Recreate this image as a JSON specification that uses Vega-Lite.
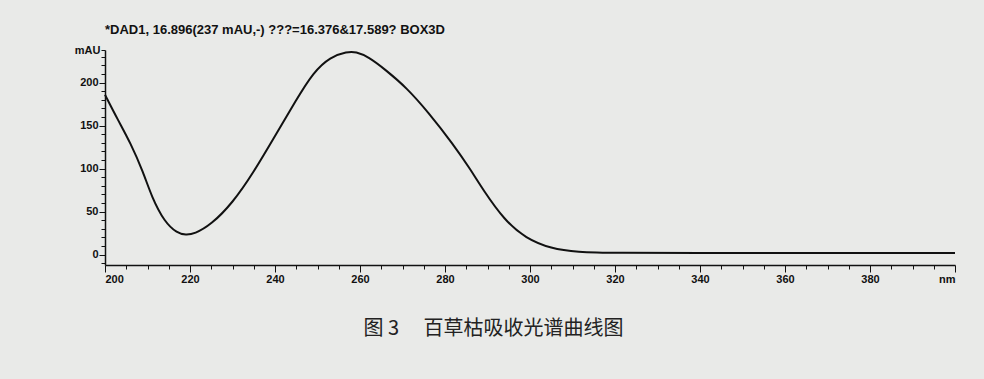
{
  "$schema": "https://vega.github.io/schema/vega-lite/v6.json",
  "autosize": "none",
  "width": 850,
  "height": 215,
  "padding": {"left": 105, "top": 50, "right": 29, "bottom": 114},
  "background": "#e9eae8",
  "title": {
    "text": "*DAD1, 16.896(237 mAU,-) ???=16.376&17.589? BOX3D",
    "anchor": "start",
    "frame": "group",
    "offset": 7,
    "fontSize": 13,
    "font": "Liberation Sans",
    "fontWeight": "bold",
    "color": "#111111"
  },
  "config": {
    "view": {"stroke": null},
    "axis": {
      "domainColor": "#111111",
      "domainWidth": 1.5,
      "tickColor": "#111111",
      "grid": false,
      "labelFont": "Liberation Sans",
      "labelFontWeight": "bold",
      "labelFontSize": 11,
      "labelColor": "#111111"
    }
  },
  "data": {
    "values": [
      {"nm": 200, "mAU": 186},
      {"nm": 203, "mAU": 157},
      {"nm": 206, "mAU": 130},
      {"nm": 209, "mAU": 96},
      {"nm": 211, "mAU": 67},
      {"nm": 214, "mAU": 38},
      {"nm": 217, "mAU": 25},
      {"nm": 219, "mAU": 23},
      {"nm": 221, "mAU": 24},
      {"nm": 225, "mAU": 35},
      {"nm": 230, "mAU": 60},
      {"nm": 235, "mAU": 96},
      {"nm": 240, "mAU": 138},
      {"nm": 245, "mAU": 180},
      {"nm": 249, "mAU": 212},
      {"nm": 253, "mAU": 230},
      {"nm": 257, "mAU": 236},
      {"nm": 259, "mAU": 236},
      {"nm": 262, "mAU": 230},
      {"nm": 266, "mAU": 215},
      {"nm": 271, "mAU": 194},
      {"nm": 276, "mAU": 166},
      {"nm": 282, "mAU": 128},
      {"nm": 286, "mAU": 99},
      {"nm": 289, "mAU": 75},
      {"nm": 294, "mAU": 40},
      {"nm": 299, "mAU": 19},
      {"nm": 305, "mAU": 7},
      {"nm": 311, "mAU": 3},
      {"nm": 320, "mAU": 2},
      {"nm": 340, "mAU": 2},
      {"nm": 360, "mAU": 2},
      {"nm": 380, "mAU": 2},
      {"nm": 400, "mAU": 2}
    ]
  },
  "mark": {"type": "line", "color": "#111111", "strokeWidth": 2, "interpolate": "basis"},
  "encoding": {
    "x": {
      "field": "nm",
      "type": "quantitative",
      "scale": {"domain": [200, 400], "nice": false, "zero": false},
      "axis": {
        "values": [200,205,210,215,220,225,230,235,240,245,250,255,260,265,270,275,280,285,290,295,300,305,310,315,320,325,330,335,340,345,350,355,360,365,370,375,380,385,390,395,400],
        "labelExpr": "datum.value == 400 ? 'nm' : (datum.value % 20 == 0 ? datum.label : '')",
        "tickSize": {"condition": {"test": "datum.value % 20 == 0", "value": 7}, "value": 4},
        "labelPadding": 1,
        "title": "图 3　 百草枯吸收光谱曲线图",
        "titleFont": "Noto Sans CJK SC",
        "titleFontSize": 20,
        "titleFontWeight": "normal",
        "titleColor": "#222222",
        "titleX": 388,
        "titleY": 63,
        "titleBaseline": "middle",
        "titleAnchor": "middle",
        "titleAlign": "center"
      }
    },
    "y": {
      "field": "mAU",
      "type": "quantitative",
      "scale": {"domain": [-12, 238], "nice": false, "zero": false},
      "axis": {
        "values": [-10,0,10,20,30,40,50,60,70,80,90,100,110,120,130,140,150,160,170,180,190,200,210,220,230,238],
        "labelExpr": "datum.value == 238 ? 'mAU' : (datum.value % 50 == 0 ? datum.label : '')",
        "tickSize": {"condition": {"test": "datum.value % 50 == 0", "value": 6}, "value": 4},
        "labelPadding": 1,
        "title": null
      }
    }
  }
}
